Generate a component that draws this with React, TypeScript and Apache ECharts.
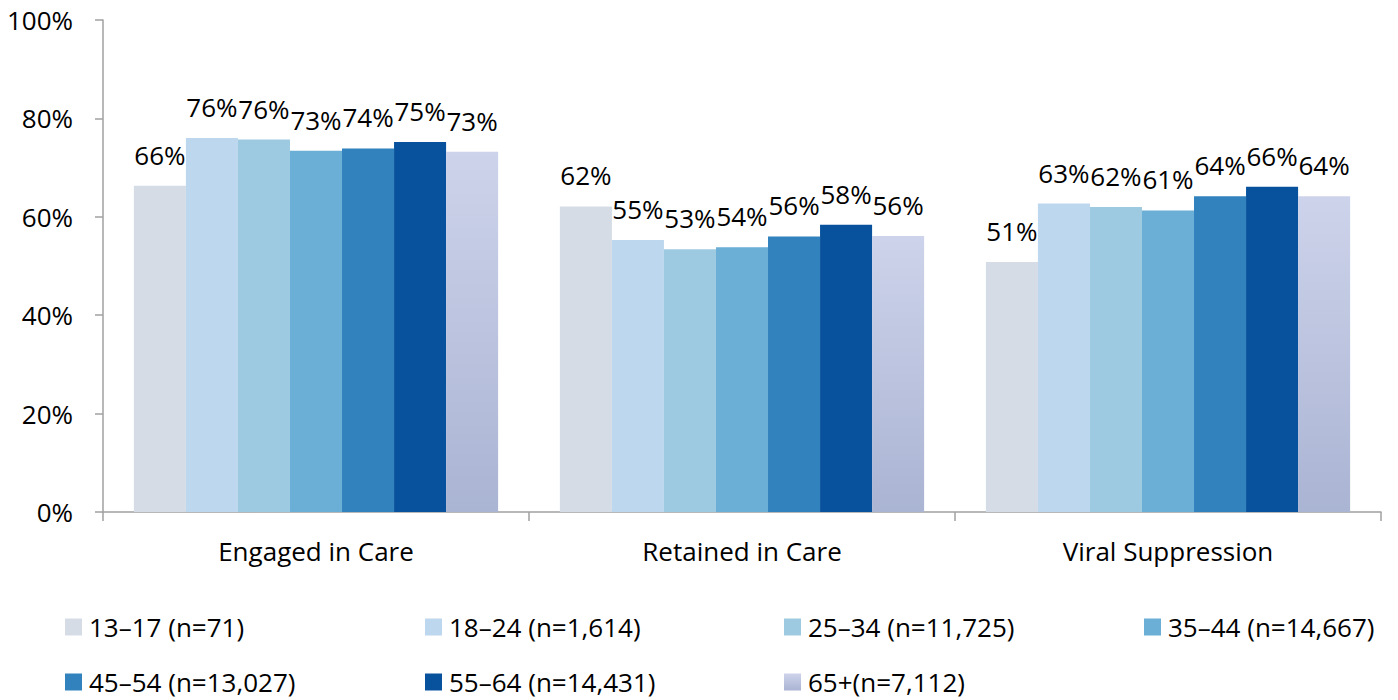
import React, { useEffect, useRef } from "react";
import * as echarts from "echarts";

const categories = ["Engaged in Care", "Retained in Care", "Viral Suppression"];
const seriesNames = [
  "13–17 (n=71)",
  "18–24 (n=1,614)",
  "25–34 (n=11,725)",
  "35–44 (n=14,667)",
  "45–54 (n=13,027)",
  "55–64 (n=14,431)",
  "65+(n=7,112)",
];
const age13to17 = [66.3, 62.1, 50.8];
const age18to24 = [76.0, 55.3, 62.7];
const age25to34 = [75.7, 53.4, 62.0];
const age35to44 = [73.4, 53.8, 61.3];
const age45to54 = [73.9, 56.0, 64.2];
const age55to64 = [75.2, 58.4, 66.1];
const age65plus = [73.2, 56.1, 64.2];
const seriesValues = [age13to17, age18to24, age25to34, age35to44, age45to54, age55to64, age65plus];
const yTicks = [0, 20, 40, 60, 80, 100];

const FONT = "'Open Sans', 'Noto Sans', sans-serif";

const colors: any[] = [
  "#d6dce5",
  "#bdd7ee",
  "#9ecae1",
  "#6baed6",
  "#3182bd",
  "#08519c",
  new echarts.graphic.LinearGradient(0, 0, 0, 1, [
    { offset: 0, color: "#cdd3ea" },
    { offset: 1, color: "#aab4d3" },
  ]),
];

export default function App() {
  const ref = useRef<HTMLDivElement>(null);
  useEffect(() => {
    if (!ref.current) return;
    const chart = echarts.init(ref.current, null, { renderer: "svg" });
    const legendX = [65, 425, 784, 1144];
    const legendY = [614, 669];
    const legends = seriesNames.map((name, i) => ({
      data: [name],
      left: legendX[i % 4],
      top: legendY[Math.floor(i / 4)],
      itemWidth: 17,
      itemHeight: 17,
      itemGap: 0,
      icon: "rect",
      selectedMode: false,
      padding: 0,
      textStyle: { fontSize: 26, color: "#000", fontFamily: FONT, padding: [0, 0, 0, 2] },
    }));
    chart.setOption({
      animation: false,
      textStyle: { fontFamily: FONT },
      grid: { left: 103, right: 17, top: 20, bottom: 188, containLabel: false },
      legend: legends,
      xAxis: {
        type: "category",
        data: categories,
        axisLine: { lineStyle: { color: "#a0a0a0", width: 1.5 } },
        axisTick: { show: true, length: 9, lineStyle: { color: "#a0a0a0", width: 1.5 } },
        axisLabel: { fontSize: 26, color: "#000", margin: 26, fontFamily: FONT },
      },
      yAxis: {
        type: "value",
        min: 0,
        max: 100,
        interval: 20,
        axisLine: { show: true, lineStyle: { color: "#a0a0a0", width: 1.5 } },
        axisTick: { show: true, length: 8, lineStyle: { color: "#a0a0a0", width: 1.5 } },
        splitLine: { show: false },
        axisLabel: {
          fontSize: 26,
          color: "#000",
          margin: 30,
          fontFamily: FONT,
          formatter: (v: number) => (yTicks.includes(v) ? `${v}%` : ""),
        },
      },
      series: seriesNames.map((name, i) => ({
        name,
        type: "bar",
        data: seriesValues[i],
        barGap: "0%",
        barCategoryGap: "14.5%",
        itemStyle: { color: colors[i] },
        label: {
          show: true,
          position: "top",
          distance: 18,
          fontSize: 26,
          color: "#000",
          fontFamily: FONT,
          formatter: (p: any) => `${Math.round(p.value)}%`,
        },
      })),
    });
    return () => chart.dispose();
  }, []);
  return (
    <div
      ref={ref}
      style={{ position: "absolute", left: 0, top: 0, width: 1398, height: 700 }}
    />
  );
}
